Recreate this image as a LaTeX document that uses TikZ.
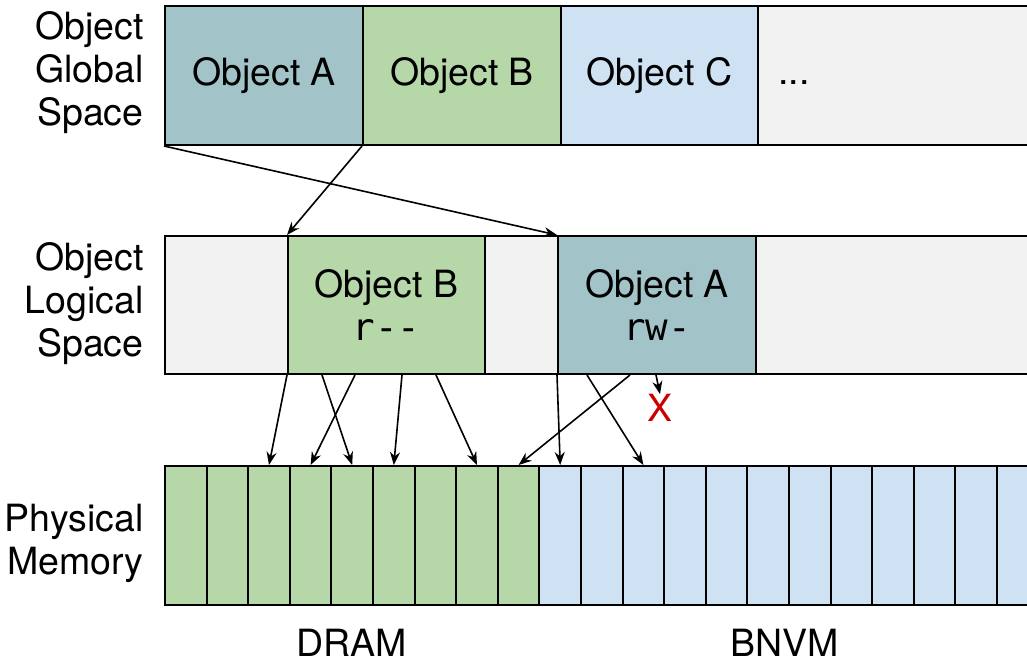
\documentclass[tikz,border=0pt]{standalone}
\usepackage{fontspec}
\setmainfont{TeX Gyre Heros}
\newfontfamily\permfont{DejaVu Sans Mono}
\usetikzlibrary{arrows.meta}

\definecolor{objA}{HTML}{A2C4C9}
\definecolor{objB}{HTML}{B6D7A8}
\definecolor{objC}{HTML}{CFE2F3}
\definecolor{freeSpace}{HTML}{F2F2F2}
\definecolor{denyRed}{HTML}{CC0000}

\tikzset{
  bigfont/.style={font=\fontsize{37.5}{43}\selectfont},
  block/.style={draw, line width=2pt, anchor=north west, inner sep=0pt, align=center, bigfont},
  gblock/.style={block, minimum height=139pt},
  lblock/.style={block, minimum height=138pt},
  page/.style={block, minimum width=41.6pt, minimum height=139pt},
  map/.style={-{Stealth[length=13pt,width=10pt]}, line width=1.6pt},
  side/.style={anchor=east, align=right, bigfont},
}

\begin{document}
\begin{tikzpicture}[x=1pt,y=-1pt]
  \useasboundingbox (0,0) rectangle (1027,662);
  \clip (0,0) rectangle (1027,662);

  % object global space
  \node[side] (globLabel) at (147,73) {Object\\Global\\Space};
  \node[gblock, fill=freeSpace, minimum width=290pt] (globRest) at (757,5) {};
  \node[gblock, fill=objA, minimum width=198pt] (globA) at (164,5) {Object A};
  \node[gblock, fill=objB, minimum width=198pt] (globB) at (362,5) {Object B};
  \node[gblock, fill=objC, minimum width=197pt] (globC) at (560,5) {Object C};
  \node[anchor=base west, bigfont, inner sep=0pt] (dots) at (778,84) {...};

  % object logical space
  \node[side] (logLabel) at (147,304) {Object\\Logical\\Space};
  \node[lblock, fill=freeSpace, minimum width=880pt] (logFree) at (164,235) {};
  \node[lblock, fill=objB, minimum width=197pt] (logB) at (287,235) {Object B\\{\permfont r{-}{-}}};
  \node[lblock, fill=objA, minimum width=198pt] (logA) at (557,235) {Object A\\{\permfont rw{-}}};

  % physical memory
  \node[side] (physLabel) at (147,543) {Physical\\Memory};
  \foreach \i in {0,...,8}
    \node[page, fill=objB] (c\i) at ({164+41.6*\i},465) {};
  \foreach \i in {9,...,21}
    \node[page, fill=objC] (c\i) at ({164+41.6*\i},465) {};
  \node[bigfont, inner sep=0pt] (dram) at (352,643) {DRAM};
  \node[bigfont, inner sep=0pt] (bnvm) at (785,643) {BNVM};

  \node[text=denyRed, bigfont, inner sep=0pt] (deny) at (660,408) {X};

  % global -> logical
  \draw[map] (globA.south west) -- (logA.north west);
  \draw[map] (globB.south west) -- (logB.north west);

  % logical -> physical
  \coordinate (bOut1) at ([xshift=35pt]logB.south west);
  \coordinate (bOut2) at ([xshift=68pt]logB.south west);
  \coordinate (bOut3) at ([xshift=115pt]logB.south west);
  \coordinate (bOut4) at ([xshift=149pt]logB.south west);
  \coordinate (aOut1) at ([xshift=30pt]logA.south west);
  \coordinate (aOut2) at ([xshift=73pt]logA.south west);
  \coordinate (aOut3) at ([xshift=99pt]logA.south west);
  \draw[map] (logB.south west) -- (c2.north);
  \draw[map] (bOut1) -- (c4.north);
  \draw[map] (bOut2) -- (c3.north);
  \draw[map] (bOut3) -- (c5.north);
  \draw[map] (bOut4) -- (c7.north);
  \draw[map] (logA.south west) -- (c9.north);
  \draw[map] (aOut1) -- (c11.north);
  \draw[map] (aOut2) -- (c8.north);
  \draw[map] (aOut3) -- (deny.north);
\end{tikzpicture}
\end{document}
